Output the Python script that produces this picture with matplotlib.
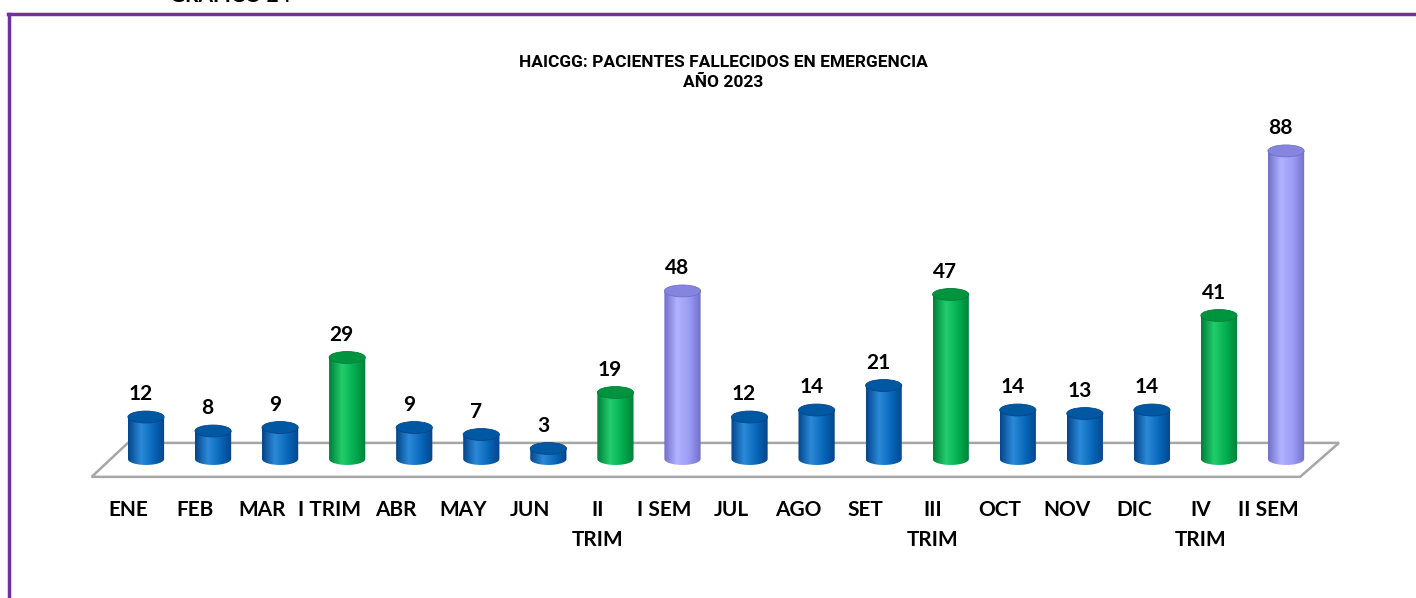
import numpy as np
import matplotlib.pyplot as plt
from matplotlib.patches import Ellipse, Polygon, PathPatch
from matplotlib.path import Path
from matplotlib.colors import LinearSegmentedColormap

# datos
categorias = ['ENE', 'FEB', 'MAR', 'I TRIM', 'ABR', 'MAY', 'JUN', 'II\nTRIM', 'I SEM',
              'JUL', 'AGO', 'SET', 'III\nTRIM', 'OCT', 'NOV', 'DIC', 'IV\nTRIM', 'II SEM']
valores = [12, 8, 9, 29, 9, 7, 3, 19, 48, 12, 14, 21, 47, 14, 13, 14, 41, 88]
tipos = ['mes', 'mes', 'mes', 'trim', 'mes', 'mes', 'mes', 'trim', 'sem',
         'mes', 'mes', 'mes', 'trim', 'mes', 'mes', 'mes', 'trim', 'sem']

# colores: (borde oscuro, claro, medio, tapa)
colores = {
    'mes': ('#06458a', '#2a8ad8', '#0766b8', '#0058a2'),
    'trim': ('#007f38', '#22cd6c', '#00ad4e', '#00943e'),
    'sem': ('#7070cc', '#b2b2ff', '#9a9af4', '#8585e0'),
}

fig = plt.figure(figsize=(14.16, 5.98), dpi=100)
ax = fig.add_axes([0, 0, 1, 1])
ax.axis('off')

ancho = 0.54     # ancho del cilindro (en categorias)
elip = 3.4       # alto de la elipse (en unidades)

x = np.arange(len(valores))

# piso
n = len(valores)
fondo, frente = 4.6, -5.1
piso = Polygon([(-0.81, frente), (-0.27, fondo), (n - 1 + 0.79, fondo), (n - 1 + 0.21, frente)],
               closed=True, facecolor='white', edgecolor='#a6a6a6', lw=1.8, zorder=1)
ax.add_patch(piso)

t = np.linspace(0, np.pi, 40)
for xi, v, tp in zip(x, valores, tipos):
    c0, c1, c2, ctapa = colores[tp]
    cmap = LinearSegmentedColormap.from_list('c', [(0, c0), (0.35, c1), (0.7, c2), (1, c0)])
    izq, der = xi - ancho / 2, xi + ancho / 2
    arco = np.column_stack([xi - np.cos(t) * ancho / 2, -np.sin(t) * elip / 2])
    verts = np.vstack([[izq, v], arco, [der, v], [izq, v]])
    cuerpo = PathPatch(Path(verts, closed=True), facecolor='none', edgecolor='none', zorder=3)
    ax.add_patch(cuerpo)
    im = ax.imshow(np.linspace(0, 1, 100).reshape(1, -1), cmap=cmap, aspect='auto',
                   extent=[izq, der, -elip, v + elip], zorder=3, interpolation='bicubic')
    im.set_clip_path(cuerpo)
    ax.add_patch(Ellipse((xi, v), ancho, elip, facecolor=ctapa, edgecolor=c0, lw=0.6, zorder=4))
    ax.annotate(str(v), (xi - 0.08, v + elip / 2), xytext=(0, 5), textcoords='offset points',
                ha='center', va='bottom', fontsize=15, fontweight='bold', family='Lato', zorder=5)

# etiquetas alineadas al frente del piso
for xi, lab in zip(x, categorias):
    ax.text(xi - 0.27, -11.8, lab, ha='center', va='top', fontsize=15, fontweight='bold',
            family='Lato', linespacing=1.62)

ax.set_xlim(-2.177, 18.938)
ax.set_ylim(-39.7, 131.1)

# titulo
fig.text(0.511, 0.879, 'HAICGG: PACIENTES FALLECIDOS EN EMERGENCIA\nAÑO 2023', ha='center', va='center',
         fontsize=12.5, fontweight='bold', family=['DejaVu Sans Condensed', 'Roboto'], linespacing=1.45)

# texto cortado arriba y marco
fig.text(0.12, 0.997, 'GRÁFICO 24', ha='left', va='baseline', fontsize=15, fontweight='bold', family='Lato')
fig.add_artist(plt.Line2D([0.0067, 0.0067], [0, 0.977], color='#7030a0', lw=2.5))
fig.add_artist(plt.Line2D([0.0058, 1], [0.977, 0.977], color='#7030a0', lw=2.5))

plt.savefig('out.png', dpi=100)
plt.close()
